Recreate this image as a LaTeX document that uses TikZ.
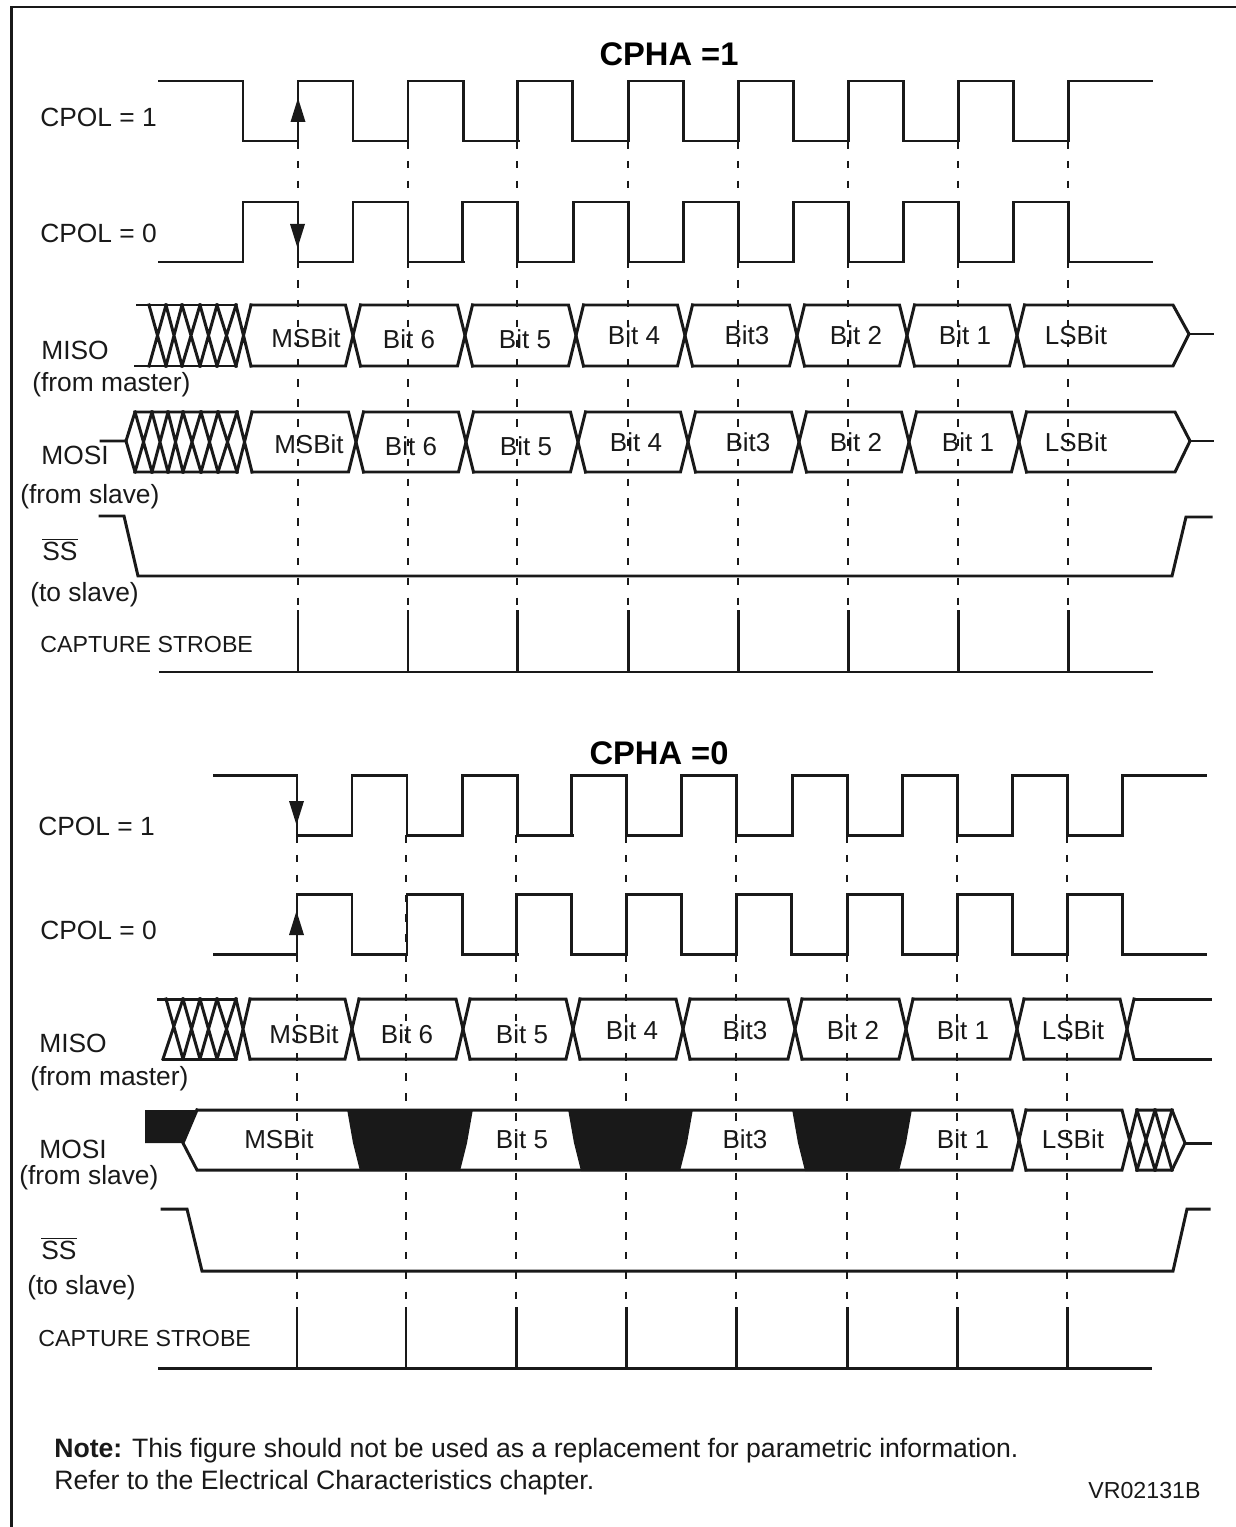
\documentclass[tikz,border=0pt]{standalone}
\usepackage{fontspec}
\setmainfont{Liberation Sans}
\begin{document}
\begin{tikzpicture}[
            x=.02cm, y=-.02cm,
            wave/.style={line width=1.7pt, line cap=rect, draw=black!90},
            readline/.style={draw=black!90, line width=1.1pt, dash pattern=on 4.3pt off 7pt},
            lbl/.style={font=\fontsize{15}{17}\selectfont, text=black!90, inner sep=0pt, anchor=base west},
            bitlbl/.style={lbl, font=\fontsize{14.8}{17}\selectfont, anchor=base},
            head/.style={font=\fontsize{18.6}{22}\bfseries\selectfont, text=black, inner sep=0pt, anchor=base},
            small/.style={lbl, font=\fontsize{13.2}{16}\selectfont},
            notelbl/.style={lbl, font=\fontsize{15.15}{18}\selectfont},
        ]
            \useasboundingbox (0, 0) rectangle (1236, 1527);
            \draw[line width=1.7pt, draw=black!90] (11.5, 1527) -- (11.5, 7) -- (1236, 7);

            %% CPHA = 1: clocks, then the guide lines down to the strobe
            \node[head] (cpha1) at (669, 66) {CPHA =1};
            \node[lbl] (cpol1a) at (40, 127) {CPOL = 1};
            \node[lbl] (cpol0a) at (40, 243) {CPOL = 0};
            \draw[wave] (159, 81) -- (243, 81) -- (243, 141) -- (298, 141);
            \foreach \s in {298, 408, 517, 628, 738, 848, 958}{
                \draw[wave] (\s, 141) -- (\s, 81) -- (\s+55, 81) -- (\s+55, 141) -- (\s+110, 141);
            }
            \draw[wave] (1068, 141) -- (1068, 81) -- (1151, 81);
            \draw[wave] (159, 262) -- (243, 262);
            \foreach \s in {243, 353, 462, 573, 683, 793, 903, 1013}{
                \draw[wave] (\s, 262) -- (\s, 202) -- (\s+55, 202) -- (\s+55, 262) -- (\s+110, 262);
            }
            \draw[wave] (1068, 262) -- (1151, 262);
            \fill[black!90] (298, 98) -- (305.5, 122) -- (290.5, 122) -- cycle;
            \fill[black!90] (297.5, 248) -- (305, 224) -- (290, 224) -- cycle;

            \foreach \s in {298, 408, 517, 628, 738, 848, 958, 1068}{
                \draw[readline] (\s, 141) -- (\s, 611);
                \draw[wave] (\s, 611) -- (\s, 672);
            }

            %% MISO, upper
            \node[lbl] (misoa) at (41, 359) {MISO};
            \node[lbl] (frommastera) at (32, 391) {(from master)};
            \draw[wave] (137, 305) -- (236, 305) (135, 366) -- (236, 366);
            \foreach \a/\b in {149/166, 166/182, 182/200, 200/217, 217/236, 236/251}{
                \draw[wave] (\a, 305) -- (\b, 366) (\a, 366) -- (\b, 305);
            }
            \foreach \c/\n in {243.5/353, 353/465, 465/576, 576/685, 685/797, 797/907, 907/1017}{
                \draw[wave] (\c+7.5, 305) -- (\n-7.5, 305) -- (\n+7.5, 366);
                \draw[wave] (\c+7.5, 366) -- (\n-7.5, 366) -- (\n+7.5, 305);
            }
            \draw[wave] (1024.5, 305) -- (1173, 305) -- (1189, 334) -- (1173, 366) -- (1024.5, 366);
            \draw[wave] (1189, 334) -- (1212, 334);
            \foreach \x/\y/\t [count=\i] in {306/347/MSBit, 409/348/Bit 6, 525/348/Bit 5, 634/344/Bit 4,
                747/344/Bit3, 856/344/Bit 2, 965/344/Bit 1, 1076/344/LSBit}{
                \node[bitlbl] (misoa\i) at (\x, \y) {\t};
            }

            %% MOSI, upper
            \node[lbl] (mosia) at (41, 464) {MOSI};
            \node[lbl] (fromslavea) at (20, 503) {(from slave)};
            \draw[wave] (101, 441) -- (126, 441) -- (135, 412) -- (237, 412);
            \draw[wave] (126, 441) -- (135, 472) -- (237, 472);
            \foreach \a/\b in {135/152, 152/168, 168/183, 183/201, 201/218, 218/237, 237/252}{
                \draw[wave] (\a, 412) -- (\b, 472) (\a, 472) -- (\b, 412);
            }
            \foreach \c/\n in {244.5/356, 356/466, 466/578, 578/688, 688/799, 799/909, 909/1019}{
                \draw[wave] (\c+7.5, 412) -- (\n-7.5, 412) -- (\n+7.5, 472);
                \draw[wave] (\c+7.5, 472) -- (\n-7.5, 472) -- (\n+7.5, 412);
            }
            \draw[wave] (1026.5, 412) -- (1175, 412) -- (1190, 441) -- (1175, 472) -- (1026.5, 472);
            \draw[wave] (1190, 441) -- (1212, 441);
            \foreach \x/\y/\t [count=\i] in {309/453/MSBit, 411/455/Bit 6, 526/455/Bit 5, 636/451/Bit 4,
                748/451/Bit3, 856/451/Bit 2, 968/451/Bit 1, 1076/451/LSBit}{
                \node[bitlbl] (mosia\i) at (\x, \y) {\t};
            }

            \node[lbl] (ssa) at (42, 560) {$\overline{\mbox{SS}}$};
            \node[lbl] (toslavea) at (30, 601) {(to slave)};
            \draw[wave] (100, 516) -- (124, 516) -- (138, 576) -- (1172, 576) -- (1186, 517) -- (1211, 517);
            \node[small] (strobea) at (40, 652) {CAPTURE STROBE};
            \draw[wave] (160, 672) -- (1151, 672);

            %% CPHA = 0
            \node[head] (cpha0) at (659, 764) {CPHA =0};
            \node[lbl] (cpol1b) at (38, 835) {CPOL = 1};
            \node[lbl] (cpol0b) at (40, 939) {CPOL = 0};
            \draw[wave] (214, 775) -- (297, 775) -- (297, 835) -- (352, 835);
            \foreach \s in {352, 462, 571, 681, 792, 902, 1012}{
                \draw[wave] (\s, 835) -- (\s, 775) -- (\s+55, 775) -- (\s+55, 835) -- (\s+110, 835);
            }
            \draw[wave] (1122, 835) -- (1122, 775) -- (1205, 775);
            \draw[wave] (214, 954) -- (297, 954);
            \foreach \s in {297, 407, 516, 626, 736, 847, 957, 1067}{
                \draw[wave] (\s, 954) -- (\s, 894) -- (\s+55, 894) -- (\s+55, 954) -- (\s+110, 954);
            }
            \draw[wave] (1122, 954) -- (1205, 954);
            \fill[black!90] (296.5, 825) -- (304, 801) -- (289, 801) -- cycle;
            \fill[black!90] (296.5, 911) -- (304, 935) -- (289, 935) -- cycle;

            \foreach \s in {297, 406, 516, 626, 736, 847, 957, 1067}{
                \draw[readline] (\s, 835) -- (\s, 1308);
                \draw[wave] (\s, 1308) -- (\s, 1368);
            }

            %% MISO, lower
            \node[lbl] (misob) at (39, 1052) {MISO};
            \node[lbl] (frommasterb) at (30, 1085) {(from master)};
            \draw[wave] (158, 999) -- (236, 999) (163, 1059) -- (236, 1059);
            \draw[wave] (166, 999) -- (183, 1059) (163, 1059) -- (183, 999);
            \foreach \a/\b in {183/200, 200/217, 217/236, 236/250}{
                \draw[wave] (\a, 999) -- (\b, 1059) (\a, 1059) -- (\b, 999);
            }
            \foreach \c/\n in {243/352, 352/463, 463/573, 573/683, 683/795, 795/906, 906/1017, 1017/1127}{
                \draw[wave] (\c+7, 999) -- (\n-7, 999) -- (\n+7, 1059);
                \draw[wave] (\c+7, 1059) -- (\n-7, 1059) -- (\n+7, 999);
            }
            \draw[wave] (1134, 999) -- (1210, 999) (1134, 1059) -- (1210, 1059);
            \foreach \x/\y/\t [count=\i] in {304/1043/MSBit, 407/1043/Bit 6, 522/1043/Bit 5, 632/1039/Bit 4,
                745/1039/Bit3, 853/1039/Bit 2, 963/1039/Bit 1, 1073/1039/LSBit}{
                \node[bitlbl] (misob\i) at (\x, \y) {\t};
            }

            %% MOSI, lower: undriven bits are filled in
            \node[lbl] (mosib) at (39, 1158) {MOSI};
            \node[lbl] (fromslaveb) at (19, 1184) {(from slave)};
            \fill[black!90] (145, 1110) -- (197, 1110) -- (183, 1143) -- (145, 1143) -- cycle;
            \draw[wave] (197, 1110) -- (1012, 1110) -- (1026, 1170);
            \draw[wave] (197, 1110) -- (183, 1143) -- (197, 1170) -- (1012, 1170) -- (1026, 1110);
            \foreach \l/\r in {347/473, 568/693, 792/912}{
                \fill[black!90] (\l, 1109) -- (\r, 1109) -- (\r-6, 1143) -- (\r-13, 1171)
                    -- (\l+13, 1171) -- (\l+6, 1143) -- cycle;
            }
            \draw[wave] (1026, 1110) -- (1122, 1110) -- (1137, 1170) (1026, 1170) -- (1122, 1170) -- (1137, 1110);
            \draw[wave] (1137, 1110) -- (1172, 1110) -- (1185, 1143) -- (1172, 1170) -- (1137, 1170);
            \foreach \a/\b in {1137/1155, 1155/1172}{
                \draw[wave] (\a, 1110) -- (\b, 1170) (\a, 1170) -- (\b, 1110);
            }
            \draw[wave] (1185, 1143) -- (1210, 1143);
            \foreach \x/\t [count=\i] in {279/MSBit, 522/Bit 5, 745/Bit3, 963/Bit 1, 1073/LSBit}{
                \node[bitlbl] (mosib\i) at (\x, 1148) {\t};
            }

            \node[lbl] (ssb) at (41, 1259) {$\overline{\mbox{SS}}$};
            \node[lbl] (toslaveb) at (27, 1294) {(to slave)};
            \draw[wave] (162, 1209) -- (187, 1209) -- (202, 1271) -- (1173, 1271) -- (1187, 1209) -- (1209, 1209);
            \node[small] (strobeb) at (38, 1346) {CAPTURE STROBE};
            \draw[wave] (159, 1368) -- (1150, 1368);

            \node[notelbl] (note) at (54, 1457) {\textbf{Note:} This figure should not be used as a replacement for parametric information.};
            \node[notelbl] (refer) at (54, 1489) {Refer to the Electrical Characteristics chapter.};
            \node[small] (code) at (1088, 1498) {VR02131B};
        \end{tikzpicture}
\end{document}
